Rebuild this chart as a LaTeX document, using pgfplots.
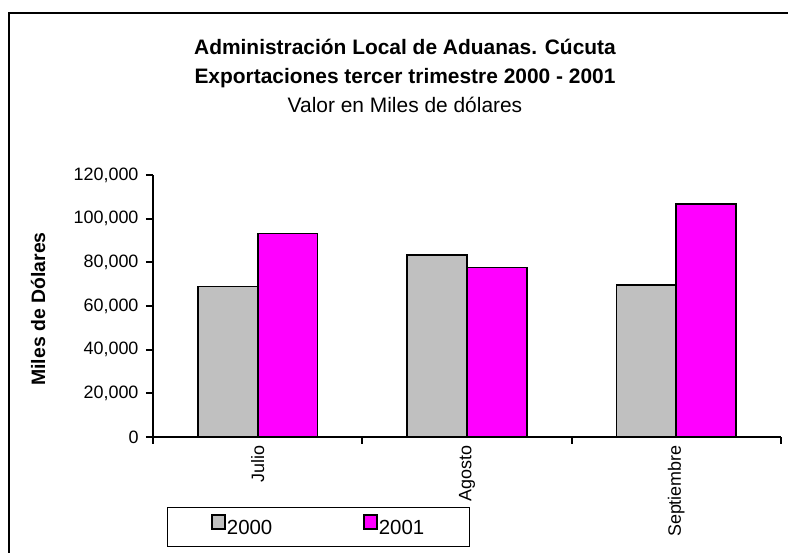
\documentclass[border=0pt]{standalone}
\usepackage{fontspec}
\setmainfont{Liberation Sans}
\usepackage{pgfplots}
\pgfplotsset{compat=1.18}
\definecolor{gris}{HTML}{C0C0C0}
\definecolor{fucsia}{HTML}{FF00FF}
\begin{document}
\begin{tikzpicture}[x=1bp,y=1bp]
\useasboundingbox (-153,-116) rectangle (635,437);
% marco del grafico (solo visible a la izquierda y arriba)
\draw[line width=1.3bp] (-144,-116) -- (-144,424) -- (635,424);
\node[anchor=base, font=\fontsize{21}{25}\selectfont\bfseries] at (252,382) {Administración Local de Aduanas. Cúcuta};
\node[anchor=base, font=\fontsize{21}{25}\selectfont\bfseries] at (252,353.7) {Exportaciones tercer trimestre 2000 - 2001};
\node[anchor=base, font=\fontsize{21}{25}\selectfont] at (252,324.7) {Valor en Miles de dólares};
\node[rotate=90, font=\fontsize{19.5}{22}\selectfont\bfseries] at (-115,128) {Miles de Dólares};
\begin{axis}[
    at={(0,0)}, anchor=south west,
    scale only axis, width=628bp, height=262bp,
    ybar=0pt, bar width=59.8bp,
    xmin=-0.5, xmax=2.5, ymin=0, ymax=120000,
    axis lines=left, axis line style={-, line width=1.8bp},
    xtick={0,1,2}, xticklabels={Julio,Agosto,Septiembre},
    minor xtick={-0.5,0.5,1.5,2.5},
    ytick={0,20000,40000,60000,80000,100000,120000},
    yticklabels={0,{20,000},{40,000},{60,000},{80,000},{100,000},{120,000}},
    tick align=outside, major tick length=7bp, minor tick length=7bp,
    major x tick style={draw=none},
    minor x tick style={line width=1.8bp, black},
    ytick style={line width=1.8bp, black},
    scaled y ticks=false,
    ticklabel style={font=\fontsize{18}{20}\selectfont},
    yticklabel style={anchor=east, xshift=-4bp},
    xticklabel style={rotate=90, anchor=east, inner sep=1bp},
    legend image code/.code={\draw[#1, line width=1.5bp] (0bp,-1bp) rectangle (13bp,13bp);},
    legend style={at={(0.0223,-0.267)}, anchor=north west, draw=black, line width=0.8bp,
        legend columns=2, inner xsep=44bp, inner ysep=7bp,
        font=\fontsize{20.5}{23}\selectfont,
        nodes={inner xsep=1bp, inner ysep=3bp},
        /tikz/every even column/.append style={column sep=90bp}},
]
\addplot[fill=gris, draw=black, line width=1.8bp] coordinates {(0,68900) (1,83200) (2,69600)};
\addlegendentry{2000}
\addplot[fill=fucsia, draw=black, line width=1.8bp] coordinates {(0,93200) (1,77600) (2,106700)};
\addlegendentry{2001}
\end{axis}
\end{tikzpicture}
\end{document}
